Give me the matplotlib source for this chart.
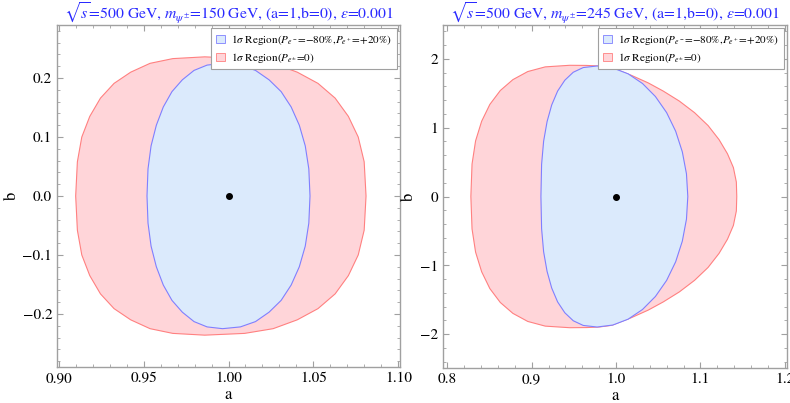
import matplotlib
matplotlib.use("Agg")
import matplotlib.pyplot as plt
import numpy as np
from matplotlib.patches import Patch
from matplotlib.ticker import MultipleLocator

plt.rcParams["font.family"] = ["STIXGeneral", "DejaVu Serif"]
plt.rcParams["mathtext.fontset"] = "stix"

# --- data: upper half of each 1-sigma contour
#     (left extreme -> top -> right extreme); contours are symmetric in b ---
# left panel: m = 150 GeV
red150_a = [0.910, 0.911, 0.9136, 0.9183, 0.9246, 0.9326, 0.9424, 0.9538, 0.9672, 0.986,
            1.0095, 1.0263, 1.0405, 1.0527, 1.0628, 1.0706, 1.0764, 1.0799, 1.081]
red150_b = [0.000, 0.058, 0.100, 0.135, 0.166, 0.191, 0.210, 0.225, 0.233, 0.236,
            0.233, 0.225, 0.210, 0.191, 0.166, 0.135, 0.100, 0.058, 0.000]
blue150_a = [0.952, 0.9526, 0.9544, 0.9575, 0.9616, 0.9667, 0.9728, 0.9797, 0.9874, 0.9965,
             1.0070, 1.0159, 1.0239, 1.0310, 1.0369, 1.0417, 1.0452, 1.0473, 1.048]
blue150_b = [0.000, 0.046, 0.085, 0.120, 0.151, 0.177, 0.197, 0.213, 0.222, 0.225,
             0.222, 0.213, 0.197, 0.177, 0.151, 0.120, 0.085, 0.046, 0.000]

# right panel: m = 245 GeV
red245_a = [0.828, 0.8294, 0.8336, 0.8408, 0.8505, 0.8629, 0.8778, 0.8954, 0.9161, 0.945,
            0.965, 0.980, 0.995, 1.018, 1.038, 1.056, 1.075, 1.093, 1.109, 1.122,
            1.132, 1.139, 1.1425, 1.143]
red245_b = [0.000, 0.471, 0.808, 1.093, 1.337, 1.539, 1.697, 1.814, 1.882, 1.905,
            1.903, 1.895, 1.870, 1.760, 1.650, 1.530, 1.385, 1.217, 1.030, 0.826,
            0.620, 0.420, 0.210, 0.000]
blue245_a = [0.911, 0.9118, 0.9142, 0.9183, 0.9238, 0.9308, 0.9393, 0.9493, 0.9611, 0.9775,
             0.9962, 1.0143, 1.0313, 1.0466, 1.0599, 1.0706, 1.0785, 1.0834, 1.085]
blue245_b = [0.000, 0.468, 0.803, 1.088, 1.330, 1.531, 1.688, 1.804, 1.872, 1.895,
             1.866, 1.781, 1.641, 1.452, 1.218, 0.948, 0.648, 0.329, 0.000]

titles = [
    r"$\sqrt{s}$=500 GeV, $m_{\psi^{\pm}}$=150 GeV, (a=1,b=0), $\epsilon$=0.001",
    r"$\sqrt{s}$=500 GeV, $m_{\psi^{\pm}}$=245 GeV, (a=1,b=0), $\epsilon$=0.001",
]
legend_labels = [
    r"1$\sigma$ Region($P_{e^-}$=$-$80%,$P_{e^+}$=+20%)",
    r"1$\sigma$ Region($P_{e^{\pm}}$=0)",
]

RED_FILL, RED_EDGE = "#ffd5d9", "#ff8080"
BLUE_FILL, BLUE_EDGE = "#dbeafc", "#7f7fff"
FRAME = "#a0a0a0"


def closed(a, b):
    # upper half plus its mirror image (b -> -b) gives the closed contour
    a = np.asarray(a)
    b = np.asarray(b)
    return np.r_[a, a[::-1]], np.r_[b, -b[::-1]]


def draw_panel(ax, red, blue, title, xlim, ylim, xmaj, xmin, ymaj, ymin, fmts):
    ra, rb = closed(*red)
    ba, bb = closed(*blue)
    ax.fill(ra, rb, facecolor=RED_FILL, edgecolor=RED_EDGE, lw=0.8)
    ax.fill(ba, bb, facecolor=BLUE_FILL, edgecolor=BLUE_EDGE, lw=0.8)
    ax.plot([1.0], [0.0], "o", color="black", ms=4)

    ax.set_xlim(*xlim)
    ax.set_ylim(*ylim)
    ax.xaxis.set_major_locator(MultipleLocator(xmaj))
    ax.xaxis.set_minor_locator(MultipleLocator(xmin))
    ax.yaxis.set_major_locator(MultipleLocator(ymaj))
    ax.yaxis.set_minor_locator(MultipleLocator(ymin))
    ax.xaxis.set_major_formatter(fmts[0])
    ax.yaxis.set_major_formatter(fmts[1])
    ax.tick_params(which="both", direction="in", top=True, right=True,
                   color=FRAME, labelsize=11, pad=3.5)
    ax.tick_params(which="major", length=4)
    ax.tick_params(which="minor", length=2)
    for s in ax.spines.values():
        s.set_color(FRAME)
        s.set_linewidth(1.0)

    ax.set_xlabel("a", fontsize=12, labelpad=1)
    ax.set_ylabel("b", fontsize=12, labelpad=2)
    ax.set_title(title, color="#2a2aff", fontsize=11.3, pad=4)

    handles = [Patch(facecolor=BLUE_FILL, edgecolor=BLUE_EDGE, lw=0.6),
               Patch(facecolor=RED_FILL, edgecolor=RED_EDGE, lw=0.6)]
    leg = ax.legend(handles, legend_labels, loc="upper right", fontsize=8,
                    handlelength=0.8, handleheight=0.8, handletextpad=0.6,
                    borderaxespad=0.3, fancybox=False, framealpha=1,
                    labelspacing=0.35)
    leg.get_frame().set_edgecolor(FRAME)
    leg.get_frame().set_linewidth(0.8)


def fmt(n):
    return plt.FuncFormatter(lambda v, pos: f"{v:.{n}f}".replace("-", "\u2212"))


fig = plt.figure(figsize=(7.9, 4.03), dpi=100)
ax1 = fig.add_axes([57 / 790, 36 / 403, 343 / 790, 342 / 403])
ax2 = fig.add_axes([443 / 790, 35 / 403, 344 / 790, 343 / 403])

draw_panel(ax1, (red150_a, red150_b), (blue150_a, blue150_b), titles[0],
           (0.899, 1.101), (-0.29, 0.29), 0.05, 0.01, 0.1, 0.02,
           (fmt(2), fmt(1)))
draw_panel(ax2, (red245_a, red245_b), (blue245_a, blue245_b), titles[1],
           (0.795, 1.2025), (-2.49, 2.49), 0.1, 0.02, 1, 0.2,
           (fmt(1), fmt(0)))

fig.savefig("out.png", dpi=100)
